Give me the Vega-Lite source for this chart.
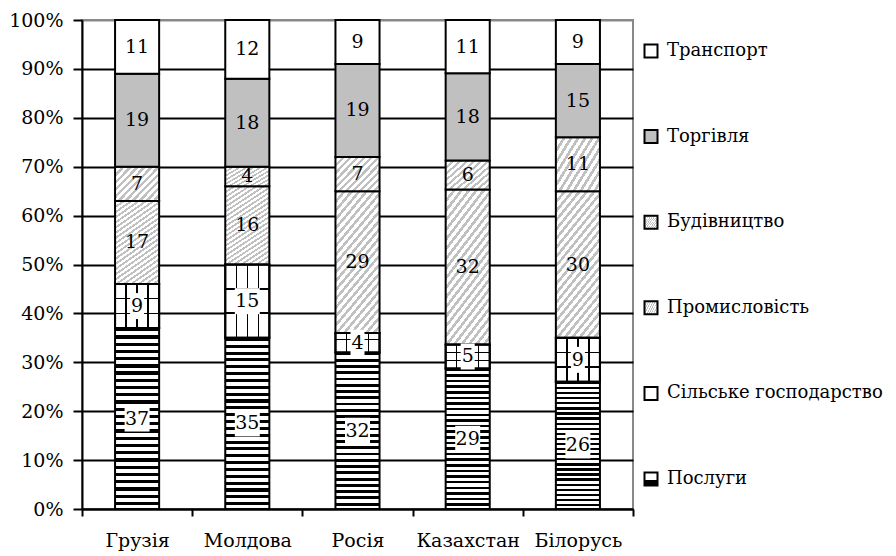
{
  "$schema": "https://vega.github.io/schema/vega-lite/v6.json",
  "autosize": {"type": "none"},
  "padding": {"left": 82, "top": 20, "right": 263, "bottom": 47},
  "width": 551,
  "height": 489,
  "background": "white",
  "config": {
    "view": {"stroke": "#888888", "strokeWidth": 2},
    "axis": {"labelFont": "DejaVu Serif", "labelFontSize": 19, "labelColor": "black", "domainColor": "black", "domainWidth": 2, "tickColor": "black", "tickWidth": 2},
    "text": {"font": "DejaVu Serif"}
  },
  "data": {
    "values": [
      {"country": "Грузія", "sector": "Послуги", "value": 37},
      {"country": "Грузія", "sector": "Сільське господарство", "value": 9},
      {"country": "Грузія", "sector": "Промисловість", "value": 17},
      {"country": "Грузія", "sector": "Будівництво", "value": 7},
      {"country": "Грузія", "sector": "Торгівля", "value": 19},
      {"country": "Грузія", "sector": "Транспорт", "value": 11},
      {"country": "Молдова", "sector": "Послуги", "value": 35},
      {"country": "Молдова", "sector": "Сільське господарство", "value": 15},
      {"country": "Молдова", "sector": "Промисловість", "value": 16},
      {"country": "Молдова", "sector": "Будівництво", "value": 4},
      {"country": "Молдова", "sector": "Торгівля", "value": 18},
      {"country": "Молдова", "sector": "Транспорт", "value": 12},
      {"country": "Росія", "sector": "Послуги", "value": 32},
      {"country": "Росія", "sector": "Сільське господарство", "value": 4},
      {"country": "Росія", "sector": "Промисловість", "value": 29},
      {"country": "Росія", "sector": "Будівництво", "value": 7},
      {"country": "Росія", "sector": "Торгівля", "value": 19},
      {"country": "Росія", "sector": "Транспорт", "value": 9},
      {"country": "Казахстан", "sector": "Послуги", "value": 29},
      {"country": "Казахстан", "sector": "Сільське господарство", "value": 5},
      {"country": "Казахстан", "sector": "Промисловість", "value": 32},
      {"country": "Казахстан", "sector": "Будівництво", "value": 6},
      {"country": "Казахстан", "sector": "Торгівля", "value": 18},
      {"country": "Казахстан", "sector": "Транспорт", "value": 11},
      {"country": "Білорусь", "sector": "Послуги", "value": 26},
      {"country": "Білорусь", "sector": "Сільське господарство", "value": 9},
      {"country": "Білорусь", "sector": "Промисловість", "value": 30},
      {"country": "Білорусь", "sector": "Будівництво", "value": 11},
      {"country": "Білорусь", "sector": "Торгівля", "value": 15},
      {"country": "Білорусь", "sector": "Транспорт", "value": 9}
    ]
  },
  "transform": [
    {"stack": "value", "groupby": ["country"], "offset": "normalize", "as": ["y0", "y1"]},
    {"calculate": "(datum.y0 + datum.y1) / 2", "as": "mid"}
  ],
  "encoding": {
    "x": {
      "field": "country", "type": "nominal", "sort": null, "title": null,
      "scale": {"paddingInner": 0, "paddingOuter": 0},
      "axis": {"labelAngle": 0, "tickBand": "extent", "tickSize": 7, "labelPadding": 15, "grid": false}
    }
  },
  "layer": [
    {
      "mark": {"type": "bar", "width": {"band": 0.4}, "stroke": "black", "strokeWidth": 2, "opacity": 1},
      "encoding": {
        "y": {
          "field": "y0", "type": "quantitative", "title": null,
          "scale": {"domain": [0, 1]},
          "axis": {
            "values": [0, 0.1, 0.2, 0.3, 0.4, 0.5, 0.6, 0.7, 0.8, 0.9, 1],
            "format": ".0%", "tickSize": 9, "labelPadding": 10, "grid": true, "gridWidth": 2,
            "gridColor": {"condition": {"test": "datum.value >= 1", "value": "#888888"}, "value": "black"}
          }
        },
        "y2": {"field": "y1"},
        "fill": {
          "field": "sector", "type": "nominal",
          "scale": {
            "domain": ["Транспорт", "Торгівля", "Будівництво", "Промисловість", "Сільське господарство", "Послуги"],
            "range": [
              "white",
              "#c0c0c0",
              {"expr": "{gradient:'linear',x1:0,y1:0,x2:1.12,y2:0.84,stops:[{offset:0,color:'#c0c0c0'},{offset:0.041,color:'#c0c0c0'},{offset:0.041,color:'#fff'},{offset:0.0909,color:'#fff'},{offset:0.0909,color:'#c0c0c0'},{offset:0.1319,color:'#c0c0c0'},{offset:0.1319,color:'#fff'},{offset:0.1818,color:'#fff'},{offset:0.1818,color:'#c0c0c0'},{offset:0.2228,color:'#c0c0c0'},{offset:0.2228,color:'#fff'},{offset:0.2727,color:'#fff'},{offset:0.2727,color:'#c0c0c0'},{offset:0.3137,color:'#c0c0c0'},{offset:0.3137,color:'#fff'},{offset:0.3636,color:'#fff'},{offset:0.3636,color:'#c0c0c0'},{offset:0.4046,color:'#c0c0c0'},{offset:0.4046,color:'#fff'},{offset:0.4545,color:'#fff'},{offset:0.4545,color:'#c0c0c0'},{offset:0.4955,color:'#c0c0c0'},{offset:0.4955,color:'#fff'},{offset:0.5455,color:'#fff'},{offset:0.5455,color:'#c0c0c0'},{offset:0.5865,color:'#c0c0c0'},{offset:0.5865,color:'#fff'},{offset:0.6364,color:'#fff'},{offset:0.6364,color:'#c0c0c0'},{offset:0.6774,color:'#c0c0c0'},{offset:0.6774,color:'#fff'},{offset:0.7273,color:'#fff'},{offset:0.7273,color:'#c0c0c0'},{offset:0.7683,color:'#c0c0c0'},{offset:0.7683,color:'#fff'},{offset:0.8182,color:'#fff'},{offset:0.8182,color:'#c0c0c0'},{offset:0.8592,color:'#c0c0c0'},{offset:0.8592,color:'#fff'},{offset:0.9091,color:'#fff'},{offset:0.9091,color:'#c0c0c0'},{offset:0.9501,color:'#c0c0c0'},{offset:0.9501,color:'#fff'},{offset:1,color:'#fff'}]}"},
              {"expr": "{gradient:'linear',x1:0,y1:0,x2:0.446,y2:1.205,stops:[{offset:0,color:'#c0c0c0'},{offset:0.0205,color:'#c0c0c0'},{offset:0.0205,color:'#fff'},{offset:0.0455,color:'#fff'},{offset:0.0455,color:'#c0c0c0'},{offset:0.066,color:'#c0c0c0'},{offset:0.066,color:'#fff'},{offset:0.0909,color:'#fff'},{offset:0.0909,color:'#c0c0c0'},{offset:0.1114,color:'#c0c0c0'},{offset:0.1114,color:'#fff'},{offset:0.1364,color:'#fff'},{offset:0.1364,color:'#c0c0c0'},{offset:0.1569,color:'#c0c0c0'},{offset:0.1569,color:'#fff'},{offset:0.1818,color:'#fff'},{offset:0.1818,color:'#c0c0c0'},{offset:0.2023,color:'#c0c0c0'},{offset:0.2023,color:'#fff'},{offset:0.2273,color:'#fff'},{offset:0.2273,color:'#c0c0c0'},{offset:0.2478,color:'#c0c0c0'},{offset:0.2478,color:'#fff'},{offset:0.2727,color:'#fff'},{offset:0.2727,color:'#c0c0c0'},{offset:0.2932,color:'#c0c0c0'},{offset:0.2932,color:'#fff'},{offset:0.3182,color:'#fff'},{offset:0.3182,color:'#c0c0c0'},{offset:0.3387,color:'#c0c0c0'},{offset:0.3387,color:'#fff'},{offset:0.3636,color:'#fff'},{offset:0.3636,color:'#c0c0c0'},{offset:0.3841,color:'#c0c0c0'},{offset:0.3841,color:'#fff'},{offset:0.4091,color:'#fff'},{offset:0.4091,color:'#c0c0c0'},{offset:0.4296,color:'#c0c0c0'},{offset:0.4296,color:'#fff'},{offset:0.4545,color:'#fff'},{offset:0.4545,color:'#c0c0c0'},{offset:0.475,color:'#c0c0c0'},{offset:0.475,color:'#fff'},{offset:0.5,color:'#fff'},{offset:0.5,color:'#c0c0c0'},{offset:0.5205,color:'#c0c0c0'},{offset:0.5205,color:'#fff'},{offset:0.5455,color:'#fff'},{offset:0.5455,color:'#c0c0c0'},{offset:0.566,color:'#c0c0c0'},{offset:0.566,color:'#fff'},{offset:0.5909,color:'#fff'},{offset:0.5909,color:'#c0c0c0'},{offset:0.6114,color:'#c0c0c0'},{offset:0.6114,color:'#fff'},{offset:0.6364,color:'#fff'},{offset:0.6364,color:'#c0c0c0'},{offset:0.6569,color:'#c0c0c0'},{offset:0.6569,color:'#fff'},{offset:0.6818,color:'#fff'},{offset:0.6818,color:'#c0c0c0'},{offset:0.7023,color:'#c0c0c0'},{offset:0.7023,color:'#fff'},{offset:0.7273,color:'#fff'},{offset:0.7273,color:'#c0c0c0'},{offset:0.7478,color:'#c0c0c0'},{offset:0.7478,color:'#fff'},{offset:0.7727,color:'#fff'},{offset:0.7727,color:'#c0c0c0'},{offset:0.7932,color:'#c0c0c0'},{offset:0.7932,color:'#fff'},{offset:0.8182,color:'#fff'},{offset:0.8182,color:'#c0c0c0'},{offset:0.8387,color:'#c0c0c0'},{offset:0.8387,color:'#fff'},{offset:0.8636,color:'#fff'},{offset:0.8636,color:'#c0c0c0'},{offset:0.8841,color:'#c0c0c0'},{offset:0.8841,color:'#fff'},{offset:0.9091,color:'#fff'},{offset:0.9091,color:'#c0c0c0'},{offset:0.9296,color:'#c0c0c0'},{offset:0.9296,color:'#fff'},{offset:0.9545,color:'#fff'},{offset:0.9545,color:'#c0c0c0'},{offset:0.975,color:'#c0c0c0'},{offset:0.975,color:'#fff'},{offset:1,color:'#fff'}]}"},
              {"expr": "{gradient:'linear',x1:0,y1:0,x2:1,y2:0,stops:[{offset:0,color:'#fff'},{offset:0.235,color:'#fff'},{offset:0.235,color:'#000'},{offset:0.265,color:'#000'},{offset:0.265,color:'#fff'},{offset:0.485,color:'#fff'},{offset:0.485,color:'#000'},{offset:0.515,color:'#000'},{offset:0.515,color:'#fff'},{offset:0.735,color:'#fff'},{offset:0.735,color:'#000'},{offset:0.765,color:'#000'},{offset:0.765,color:'#fff'},{offset:1,color:'#fff'}]}"},
              {"expr": "{gradient:'linear',x1:0,y1:0,x2:0,y2:1,stops:[{offset:0,color:'#000'},{offset:0.018,color:'#000'},{offset:0.018,color:'#fff'},{offset:0.04,color:'#fff'},{offset:0.04,color:'#000'},{offset:0.058,color:'#000'},{offset:0.058,color:'#fff'},{offset:0.08,color:'#fff'},{offset:0.08,color:'#000'},{offset:0.098,color:'#000'},{offset:0.098,color:'#fff'},{offset:0.12,color:'#fff'},{offset:0.12,color:'#000'},{offset:0.138,color:'#000'},{offset:0.138,color:'#fff'},{offset:0.16,color:'#fff'},{offset:0.16,color:'#000'},{offset:0.178,color:'#000'},{offset:0.178,color:'#fff'},{offset:0.2,color:'#fff'},{offset:0.2,color:'#000'},{offset:0.218,color:'#000'},{offset:0.218,color:'#fff'},{offset:0.24,color:'#fff'},{offset:0.24,color:'#000'},{offset:0.258,color:'#000'},{offset:0.258,color:'#fff'},{offset:0.28,color:'#fff'},{offset:0.28,color:'#000'},{offset:0.298,color:'#000'},{offset:0.298,color:'#fff'},{offset:0.32,color:'#fff'},{offset:0.32,color:'#000'},{offset:0.338,color:'#000'},{offset:0.338,color:'#fff'},{offset:0.36,color:'#fff'},{offset:0.36,color:'#000'},{offset:0.378,color:'#000'},{offset:0.378,color:'#fff'},{offset:0.4,color:'#fff'},{offset:0.4,color:'#000'},{offset:0.418,color:'#000'},{offset:0.418,color:'#fff'},{offset:0.44,color:'#fff'},{offset:0.44,color:'#000'},{offset:0.458,color:'#000'},{offset:0.458,color:'#fff'},{offset:0.48,color:'#fff'},{offset:0.48,color:'#000'},{offset:0.498,color:'#000'},{offset:0.498,color:'#fff'},{offset:0.52,color:'#fff'},{offset:0.52,color:'#000'},{offset:0.538,color:'#000'},{offset:0.538,color:'#fff'},{offset:0.56,color:'#fff'},{offset:0.56,color:'#000'},{offset:0.578,color:'#000'},{offset:0.578,color:'#fff'},{offset:0.6,color:'#fff'},{offset:0.6,color:'#000'},{offset:0.618,color:'#000'},{offset:0.618,color:'#fff'},{offset:0.64,color:'#fff'},{offset:0.64,color:'#000'},{offset:0.658,color:'#000'},{offset:0.658,color:'#fff'},{offset:0.68,color:'#fff'},{offset:0.68,color:'#000'},{offset:0.698,color:'#000'},{offset:0.698,color:'#fff'},{offset:0.72,color:'#fff'},{offset:0.72,color:'#000'},{offset:0.738,color:'#000'},{offset:0.738,color:'#fff'},{offset:0.76,color:'#fff'},{offset:0.76,color:'#000'},{offset:0.778,color:'#000'},{offset:0.778,color:'#fff'},{offset:0.8,color:'#fff'},{offset:0.8,color:'#000'},{offset:0.818,color:'#000'},{offset:0.818,color:'#fff'},{offset:0.84,color:'#fff'},{offset:0.84,color:'#000'},{offset:0.858,color:'#000'},{offset:0.858,color:'#fff'},{offset:0.88,color:'#fff'},{offset:0.88,color:'#000'},{offset:0.898,color:'#000'},{offset:0.898,color:'#fff'},{offset:0.92,color:'#fff'},{offset:0.92,color:'#000'},{offset:0.938,color:'#000'},{offset:0.938,color:'#fff'},{offset:0.96,color:'#fff'},{offset:0.96,color:'#000'},{offset:0.978,color:'#000'},{offset:0.978,color:'#fff'},{offset:1,color:'#fff'}]}"}
            ]
          },
          "legend": {
            "title": null, "orient": "none", "legendX": 560, "legendY": 22,
            "symbolType": "square", "symbolSize": 169, "symbolStrokeColor": "black", "symbolStrokeWidth": 2, "symbolOpacity": 1,
            "labelFont": "DejaVu Serif", "labelFontSize": 18, "labelColor": "black", "labelOffset": 7, "labelLimit": 300,
            "rowPadding": 63.6
          }
        }
      }
    },
    {
      "transform": [{"filter": "datum.sector === 'Сільське господарство'"}],
      "mark": {
        "type": "bar", "width": {"band": 0.4}, "stroke": "black", "strokeWidth": 2,
        "fill": {"gradient": "linear", "x1": 0, "y1": 0, "x2": 0, "y2": 1, "stops": [
          {"offset": 0, "color": "rgba(0,0,0,0)"}, {"offset": 0.32, "color": "rgba(0,0,0,0)"},
          {"offset": 0.32, "color": "#000"}, {"offset": 0.35, "color": "#000"},
          {"offset": 0.35, "color": "rgba(0,0,0,0)"}, {"offset": 0.65, "color": "rgba(0,0,0,0)"},
          {"offset": 0.65, "color": "#000"}, {"offset": 0.68, "color": "#000"},
          {"offset": 0.68, "color": "rgba(0,0,0,0)"}, {"offset": 1, "color": "rgba(0,0,0,0)"}
        ]}
      },
      "encoding": {
        "y": {"field": "y0", "type": "quantitative", "title": null},
        "y2": {"field": "y1"}
      }
    },
    {
      "transform": [{"filter": "(datum.sector === 'Послуги' || datum.sector === 'Сільське господарство') && datum.value >= 10"}],
      "mark": {"type": "point", "filled": true, "fill": "white", "opacity": 1, "strokeWidth": 0, "shape": "M-1,-1.04L1,-1.04L1,1.04L-1,1.04Z", "size": 625},
      "encoding": {
        "y": {"field": "mid", "type": "quantitative", "title": null}
      }
    },
    {
      "transform": [{"filter": "(datum.sector === 'Послуги' || datum.sector === 'Сільське господарство') && datum.value < 10"}],
      "mark": {"type": "point", "filled": true, "fill": "white", "opacity": 1, "strokeWidth": 0, "shape": "M-1,-1.857L1,-1.857L1,1.857L-1,1.857Z", "size": 196},
      "encoding": {
        "y": {"field": "mid", "type": "quantitative", "title": null}
      }
    },
    {
      "mark": {"type": "text", "font": "DejaVu Serif", "fontSize": 19, "color": "black", "baseline": "middle", "align": "center"},
      "encoding": {
        "y": {"field": "mid", "type": "quantitative", "title": null},
        "text": {"field": "value", "type": "quantitative"}
      }
    }
  ]
}
